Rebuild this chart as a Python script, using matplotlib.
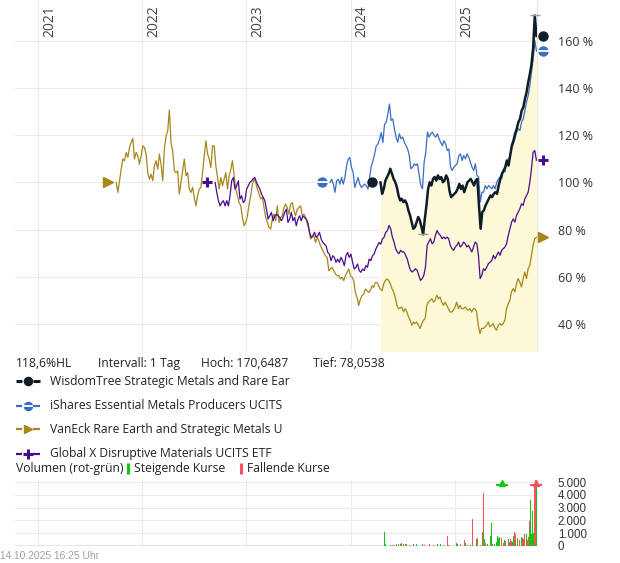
import pandas as pd
import matplotlib
matplotlib.use("Agg")
import matplotlib.pyplot as plt
import matplotlib.ticker as mticker
from matplotlib.transforms import offset_copy, blended_transform_factory

plt.rcParams['font.family'] = ['Open Sans', 'DejaVu Sans']

# --- Data (performance in %, weekly-ish samples) ---
gold_start, gold_end = "2021-10-01", "2025-10-14"
gold_vals = [
    100.0, 95.8, 100.7, 105.6, 109.9, 109.2, 112.7, 110.6, 114.8, 116.9,
    118.6, 109.9, 112.7, 111.3, 107.7, 111.3, 115.5, 114.8, 112.0, 104.2,
    101.4, 103.5, 100.7, 107.0, 109.2, 105.6, 112.0, 107.7, 100.7, 114.1,
    119.7, 121.8, 130.7, 116.9, 113.4, 104.9, 104.2, 104.9, 95.1, 100.0,
    104.9, 109.9, 102.8, 104.2, 97.2, 95.8, 97.9, 93.7, 90.1, 94.4,
    97.2, 97.9, 104.2, 111.3, 117.6, 112.0, 109.9, 106.3, 115.5, 115.5,
    107.0, 102.1, 97.2, 102.1, 98.6, 101.4, 104.2, 97.2, 102.8, 105.6,
    109.2, 102.8, 97.2, 94.4, 91.5, 90.1, 85.2, 81.7, 83.1, 85.9,
    90.8, 94.4, 99.3, 101.4, 100.0, 97.2, 95.1, 93.0, 93.7, 89.4,
    85.2, 83.1, 81.0, 80.3, 84.5, 86.6, 83.8, 90.1, 83.1, 85.2,
    85.9, 89.4, 90.8, 89.4, 86.6, 90.8, 91.5, 88.0, 85.9, 88.7,
    89.4, 90.1, 85.9, 86.6, 85.2, 82.4, 80.3, 76.1, 76.8, 77.5,
    74.6, 76.8, 75.4, 73.2, 71.8, 70.4, 69.0, 68.3, 62.7, 63.4,
    64.1, 62.7, 61.3, 60.6, 60.6, 59.2, 59.9, 58.5, 60.6, 62.0,
    63.4, 60.6, 59.9, 58.5, 53.5, 51.4, 47.9, 50.7, 52.1, 52.8,
    54.9, 54.2, 53.5, 54.2, 56.3, 55.6, 57.7, 57.7, 56.3, 54.9,
    54.2, 57.0, 58.5, 59.2,
    58.6, 57.2, 55.1, 53.7, 51.5, 48.0, 46.6, 46.9, 47.3, 45.2,
    46.6, 45.2, 43.1, 41.7, 39.6, 41.0, 40.3, 41.0, 39.6, 38.2,
    40.3, 41.7, 42.4, 48.0, 49.4, 50.1, 50.8, 49.4, 50.1, 52.3,
    50.8, 51.5, 49.4, 48.0, 49.4, 48.0, 46.6, 45.2, 45.2, 45.9,
    47.3, 49.4, 46.6, 48.0, 46.6, 46.6, 47.3, 46.6, 45.9, 46.6,
    45.2, 46.6, 46.6, 45.2, 39.6, 36.1, 38.2, 38.2, 38.9, 39.6,
    41.0, 38.9, 39.6, 40.3, 38.2, 37.5, 39.6, 40.3, 39.6, 40.3,
    41.7, 46.6, 48.7, 50.1, 53.7, 55.1, 53.7, 57.2, 59.3, 57.9,
    55.8, 59.3, 62.1, 59.3, 63.5, 64.9, 69.2, 73.4, 76.2, 76.8,
]

purple_start, purple_end = "2022-09-13", "2025-10-14"
purple_vals = [
    100.0, 95.8, 92.3, 90.1, 91.5, 92.3, 90.1, 92.3, 90.1, 94.4,
    100.7, 102.1, 97.2, 98.6, 100.7, 93.0, 94.4, 91.5, 92.3, 97.2,
    98.6, 100.0, 100.7, 101.7, 102.1, 100.0, 98.6, 97.2, 95.1, 93.7,
    92.3, 88.7, 84.5, 85.9, 87.3, 83.8, 85.9, 86.6, 85.9, 85.2,
    83.8, 85.2, 87.3, 88.7, 83.1, 84.5, 87.3, 83.8, 85.2, 81.7,
    84.5, 85.9, 83.8, 85.9, 85.2, 84.5, 83.1, 78.9, 76.8, 77.5,
    78.9, 76.8, 77.5, 78.9, 76.1, 74.6, 73.9, 73.2, 70.4, 69.7,
    66.9, 69.0, 68.3, 66.2, 67.6, 66.2, 68.3, 66.9, 64.8, 69.0,
    70.4, 68.3, 69.7, 66.2, 63.4, 64.1, 65.5, 62.7, 62.0, 63.4,
    62.7, 64.8, 64.1, 67.6, 66.9, 69.0, 69.7, 71.8, 73.2, 74.6,
    73.9, 76.1, 76.8, 78.9, 79.6,
    81.8, 80.4, 76.9, 74.8, 72.0, 70.6, 69.9, 71.3, 70.6, 70.6,
    69.2, 67.7, 64.9, 62.8, 62.1, 62.8, 63.5, 62.8, 60.7, 58.6,
    59.3, 60.7, 64.2, 73.4, 74.8, 76.2, 74.1, 74.8, 77.6, 79.7,
    78.3, 77.6, 76.2, 76.9, 76.2, 76.9, 76.2, 73.4, 72.0, 71.3,
    72.7, 73.4, 74.8, 72.7, 73.4, 74.8, 74.1, 72.7, 73.4, 72.0,
    70.6, 72.7, 74.8, 74.1, 69.2, 59.3, 60.7, 63.5, 62.8, 64.2,
    65.6, 66.3, 67.0, 69.2, 67.7, 69.2, 70.6, 69.2, 71.3, 72.0,
    72.7, 74.1, 77.6, 80.4, 83.2, 84.6, 83.2, 86.1, 87.5, 88.9,
    91.0, 90.3, 93.1, 94.5, 95.9, 100.1, 105.8, 112.8, 113.5, 109.4,
]

blue_start, blue_end = "2023-10-21", "2025-10-14"
blue_vals = [
    100.0, 101.4, 99.3, 95.8, 100.7, 101.4, 99.3, 102.1, 99.3, 102.1,
    107.0, 109.9, 110.6, 106.3, 104.2, 97.9, 100.0, 102.1, 99.3, 97.9,
    98.6, 99.3, 98.6, 97.2, 102.1, 107.0, 109.2, 112.0, 115.5, 116.2,
    118.3, 121.1, 116.9, 124.6, 125.4, 128.9,
    133.2, 126.2, 126.9, 122.7, 119.2, 117.0, 120.6, 118.5, 119.2, 117.0,
    115.6, 114.2, 111.4, 105.8, 106.5, 107.9, 107.2, 107.9, 103.0, 98.7,
    97.3, 108.6, 112.8, 121.3, 119.2, 120.6, 121.3, 119.9, 119.2, 120.6,
    118.5, 117.0, 115.6, 117.7, 116.3, 113.5, 114.2, 106.5, 105.1, 106.5,
    107.2, 107.9, 111.4, 112.1, 109.3, 111.4, 110.0, 112.1, 110.7, 108.6,
    106.5, 105.1, 107.9, 103.0, 102.3, 91.7, 95.9, 95.9, 98.7, 97.3,
    98.7, 98.0, 97.3, 98.7, 97.3, 100.1, 101.5, 102.3, 101.5, 105.1,
    104.4, 108.6, 110.0, 110.7, 114.2, 116.3, 118.5, 121.3, 122.7, 122.0,
    125.5, 126.9, 130.4, 133.9, 136.8, 141.0, 146.6, 152.0, 160.0, 155.6,
]

black_start, black_end = "2024-04-15", "2025-10-14"
black_vals = [
    100.0, 95.2, 97.3, 100.8, 102.3, 103.7, 105.8, 103.7, 101.5, 100.1,
    98.0, 94.5, 92.4, 93.1, 91.7, 92.4, 91.0, 88.2, 86.1, 83.2,
    80.4, 81.1, 83.2, 85.4, 83.9, 81.1, 78.0538, 84.6, 90.3, 97.3,
    100.1, 98.7, 101.5, 102.3, 100.8, 103.0, 101.5, 102.3, 100.1, 100.8,
    103.0, 101.5, 96.6, 93.8, 94.5, 95.2, 95.9, 97.3, 99.4, 97.3,
    98.7, 95.9, 98.0, 100.1, 100.8, 101.5, 100.1, 98.7, 100.8, 101.5,
    90.3, 80.4, 87.5, 88.2, 90.3, 91.7, 93.1, 94.5, 93.8, 95.2,
    95.9, 95.2, 98.7, 101.5, 103.7, 105.1, 106.5, 109.3, 107.2, 111.4,
    115.6, 117.7, 120.6, 122.7, 125.5, 126.9, 130.4, 131.8, 135.4, 138.2,
    142.4, 145.9, 150.0, 157.0, 170.6487, 162.0,
]

# volume of the WisdomTree product (decimal year, volume, 1 = rising day)
vol_years = [
    2024.322, 2024.338, 2024.387, 2024.403, 2024.419, 2024.444, 2024.460, 2024.476, 2024.492, 2024.508,
    2024.524, 2024.540, 2024.566, 2024.604, 2024.630, 2024.675, 2024.688, 2024.707, 2024.733, 2024.758,
    2024.781, 2024.797, 2024.829, 2024.861, 2024.893, 2024.925, 2024.941, 2025.014, 2025.027, 2025.053,
    2025.095, 2025.104, 2025.117, 2025.149, 2025.171, 2025.184, 2025.207, 2025.219, 2025.232, 2025.248,
    2025.264, 2025.271, 2025.284, 2025.293, 2025.309, 2025.328, 2025.341, 2025.348, 2025.364, 2025.380,
    2025.399, 2025.412, 2025.421, 2025.431, 2025.444, 2025.453, 2025.463, 2025.476, 2025.489, 2025.501,
    2025.511, 2025.521, 2025.533, 2025.543, 2025.553, 2025.562, 2025.572, 2025.585, 2025.597, 2025.604,
    2025.617, 2025.626, 2025.636, 2025.646, 2025.655, 2025.665, 2025.674, 2025.684, 2025.694, 2025.703,
    2025.713, 2025.719, 2025.726, 2025.735, 2025.745, 2025.754, 2025.761, 2025.767, 2025.777, 2025.787,
]
vol_values = [
    1100, 130, 50, 80, 50, 130, 100, 130, 240, 130,
    100, 100, 50, 130, 130, 130, 130, 50, 130, 130,
    370, 50, 130, 130, 50, 760, 50, 210, 130, 130,
    420, 180, 50, 50, 2130, 100, 525, 630, 240, 80,
    1050, 4130, 525, 240, 130, 100, 760, 1800, 100, 130,
    320, 760, 580, 680, 580, 6500, 180, 450, 400, 900,
    525, 320, 500, 370, 320, 760, 1100, 900, 1300, 630,
    470, 340, 710, 630, 525, 950, 920, 900, 450, 680,
    1950, 1240, 3600, 950, 2700, 970, 1150, 4800, 7000, 4800,
]
vol_up = [
    1, 1, 1, 0, 1, 0, 1, 1, 0, 1,
    0, 0, 1, 1, 1, 0, 0, 0, 1, 0,
    0, 0, 1, 1, 1, 0, 0, 1, 1, 0,
    0, 1, 1, 1, 0, 0, 1, 0, 1, 0,
    1, 0, 1, 0, 1, 0, 1, 1, 0, 1,
    1, 1, 1, 1, 0, 1, 0, 1, 0, 0,
    1, 0, 0, 0, 1, 1, 0, 0, 1, 1,
    0, 0, 1, 0, 0, 0, 1, 1, 0, 0,
    0, 1, 1, 1, 1, 1, 0, 0, 0, 1,
]

years = [2021, 2022, 2023, 2024, 2025]
y_ticks = [40, 60, 80, 100, 120, 140, 160]
vol_ticks = [0, 1000, 2000, 3000, 4000, 5000]

names = ["WisdomTree Strategic Metals and Rare Ear",
         "iShares Essential Metals Producers UCITS",
         "VanEck Rare Earth and Strategic Metals U",
         "Global X Disruptive Materials UCITS ETF"]

# --- Style ---
C_BLACK, C_BLUE, C_GOLD, C_PURPLE = "#0f1d29", "#3a6dc2", "#a6871c", "#4b0c8c"
C_UP, C_DOWN = "#11c511", "#ff4f5f"
GRID = "#ebebeb"
W, H = 620, 563


def to_date(y):
    yi = int(y)
    a, b = pd.Timestamp(yi, 1, 1), pd.Timestamp(yi + 1, 1, 1)
    return a + (b - a) * (y - yi)


def draw_marker(axis, x, y, kind, color, trans, size=1.0):
    kw = dict(transform=trans, clip_on=False, zorder=6, linestyle="none")
    if kind == "circle":
        axis.plot(x, y, marker="o", ms=6.5 * size, color=color, mec=color, **kw)
    elif kind == "split":
        axis.plot(x, y, marker="o", ms=6.5 * size, color=color, mec=color, **kw)
        axis.plot(x, y, marker="_", ms=8 * size, mew=1.3, color="white", **kw)
    elif kind == "tri":
        axis.plot(x, y, marker=">", ms=6.5 * size, color=color, mec=color, **kw)
    else:
        axis.plot(x, y, marker="+", ms=7.5 * size, mew=2.2, color=color, **kw)


fig = plt.figure(figsize=(W / 100, H / 100), dpi=100)
ax = fig.add_axes([15 / W, 1 - 351 / H, (537 - 15) / W, 351 / H])
axv = fig.add_axes([15 / W, 1 - 545.7 / H, (537 - 15) / W, (545.7 - 480) / H])

# --- Main panel ---
series = [
    (gold_start, gold_end, gold_vals, C_GOLD, 0.9, "tri"),
    (purple_start, purple_end, purple_vals, C_PURPLE, 0.9, "plus"),
    (blue_start, blue_end, blue_vals, C_BLUE, 0.9, "split"),
    (black_start, black_end, black_vals, C_BLACK, 1.8, "circle"),
]
tr_left = offset_copy(ax.transData, fig=fig, x=-8, y=0, units="dots")
tr_right = offset_copy(ax.transData, fig=fig, x=7, y=0, units="dots")

black_dates = pd.date_range(black_start, black_end, periods=len(black_vals))
ax.fill_between(black_dates, black_vals, 0, color="#fdf9d8", lw=0, zorder=1)

for start, end, vals, color, lw, kind in series:
    d = pd.date_range(start, end, periods=len(vals))
    ax.plot(d, vals, color=color, lw=lw, zorder=3, solid_joinstyle="round")
    draw_marker(ax, d[0], 100, kind, color, tr_left)
    draw_marker(ax, d[-1], vals[-1], kind, color, tr_right)

# high / low ticks of the main series
i_hi = max(range(len(black_vals)), key=lambda i: black_vals[i])
i_lo = min(range(len(black_vals)), key=lambda i: black_vals[i])
span = pd.Timedelta(days=17)
ax.hlines(black_vals[i_hi], black_dates[i_hi] - span, black_dates[i_hi] + span,
          color="#9a9a9a", lw=1.0, zorder=4, clip_on=False)
ax.hlines(black_vals[i_lo], black_dates[i_lo] - span, black_dates[i_lo] + span,
          color="#9a9a9a", lw=1.0, zorder=4)

x_left, x_right = pd.Timestamp("2020-10-11"), pd.Timestamp("2025-10-16")
ax.set_xlim(x_left, x_right)
ax.set_ylim(28.7, 177.2)
year_dates = [pd.Timestamp(y, 1, 1) for y in years]
ax.set_xticks(year_dates)
ax.set_yticks(y_ticks)
ax.yaxis.set_major_formatter(mticker.FuncFormatter(lambda v, p: f"{int(v)} %"))
ax.yaxis.tick_right()
ax.tick_params(axis="y", length=0, pad=15, labelsize=9, labelcolor="#333333")
ax.tick_params(axis="x", length=0, labelbottom=False)
for lbl in ax.get_yticklabels():
    lbl.set_horizontalalignment("left")
ax.grid(True, color=GRID, lw=0.8, zorder=0)
ax.set_axisbelow(True)
for s in ["left", "top", "bottom"]:
    ax.spines[s].set_visible(False)
ax.spines["right"].set_color("#e6e6e6")
ax.spines["right"].set_linewidth(0.8)

yr_tr = offset_copy(blended_transform_factory(ax.transData, ax.transAxes),
                    fig=fig, x=4, y=-5, units="dots")
for y, d in zip(years, year_dates):
    ax.text(d, 1.0, str(y), rotation=90, ha="left", va="top", fontsize=10,
            color="#444444", transform=yr_tr)

# --- Volume panel ---
vol_top = 5180
vdates = [to_date(y) for y in vol_years]
vcolors = [C_UP if u else C_DOWN for u in vol_up]
axv.bar(vdates, [min(v, vol_top) for v in vol_values], width=3.2,
        color=vcolors, lw=0, zorder=3)
tr_tri = offset_copy(axv.transData, fig=fig, x=0, y=-2.5, units="dots")
tr_bar = offset_copy(axv.transData, fig=fig, x=0, y=-4.5, units="dots")
for d, v, c in zip(vdates, vol_values, vcolors):
    if v > vol_top:
        axv.plot(d, vol_top, marker="^", ms=5, color=c, transform=tr_tri,
                 clip_on=False, zorder=4)
        axv.plot(d, vol_top, marker="_", ms=8, mew=1.5, color=c,
                 transform=tr_bar, clip_on=False, zorder=4)
axv.set_xlim(x_left, x_right)
axv.set_ylim(0, vol_top)
axv.set_xticks(year_dates)
axv.set_yticks(vol_ticks)
axv.yaxis.set_major_formatter(
    mticker.FuncFormatter(lambda v, p: f"{int(v):,}".replace(",", ".")))
axv.yaxis.tick_right()
axv.tick_params(axis="y", length=0, pad=15, labelsize=8.3, labelcolor="#333333")
axv.tick_params(axis="x", length=0, labelbottom=False)
for lbl in axv.get_yticklabels():
    lbl.set_horizontalalignment("left")
    lbl.set_family(["Liberation Sans", "DejaVu Sans"])
axv.grid(True, color=GRID, lw=0.8, zorder=0)
axv.set_axisbelow(True)
axv.axhline(0, color="#e2e2e2", lw=2, zorder=1)
for s in axv.spines.values():
    s.set_visible(False)

# --- Header and legend (pixel layout) ---
ov = fig.add_axes([0, 0, 1, 1])
ov.set_xlim(0, W)
ov.set_ylim(H, 0)
ov.axis("off")

txt = dict(fontsize=8.7, color="#222222", va="center", ha="left")
ov.text(16, 363.5, "118,6%HL", **txt)
ov.text(98, 363.5, "Intervall: 1 Tag", **txt)
ov.text(201, 363.5, "Hoch: 170,6487", **txt)
ov.text(313, 363.5, "Tief: 78,0538", **txt)

rows_y = [381, 405.5, 429.3, 453.5]
leg_items = [(C_BLACK, "circle", 2.2), (C_BLUE, "split", 1.6),
             (C_GOLD, "tri", 1.6), (C_PURPLE, "plus", 1.6)]
for (c, kind, lw), name, ry in zip(leg_items, names, rows_y):
    ov.plot([16, 22], [ry, ry], color=c, lw=lw, solid_capstyle="butt")
    ov.plot([33, 40], [ry, ry], color=c, lw=lw, solid_capstyle="butt")
    draw_marker(ov, 27.7, ry, kind, c, ov.transData, size=0.9)
    ov.text(50, ry, name, **txt)

ov.text(16, 468.5, "Volumen (rot-grün)", **txt)
ov.plot([127.5, 127.5], [463, 474], color=C_UP, lw=2.2, solid_capstyle="butt")
ov.text(134, 468.5, "Steigende Kurse", **txt)
ov.plot([240.5, 240.5], [463, 474], color=C_DOWN, lw=2.2, solid_capstyle="butt")
ov.text(247, 468.5, "Fallende Kurse", **txt)

ov.text(0, 556, "14.10.2025 16:25 Uhr", fontsize=7.4, color="#a0a0a0",
        va="center", ha="left", family=["Liberation Sans", "DejaVu Sans"])

fig.savefig("out.png", dpi=100)
